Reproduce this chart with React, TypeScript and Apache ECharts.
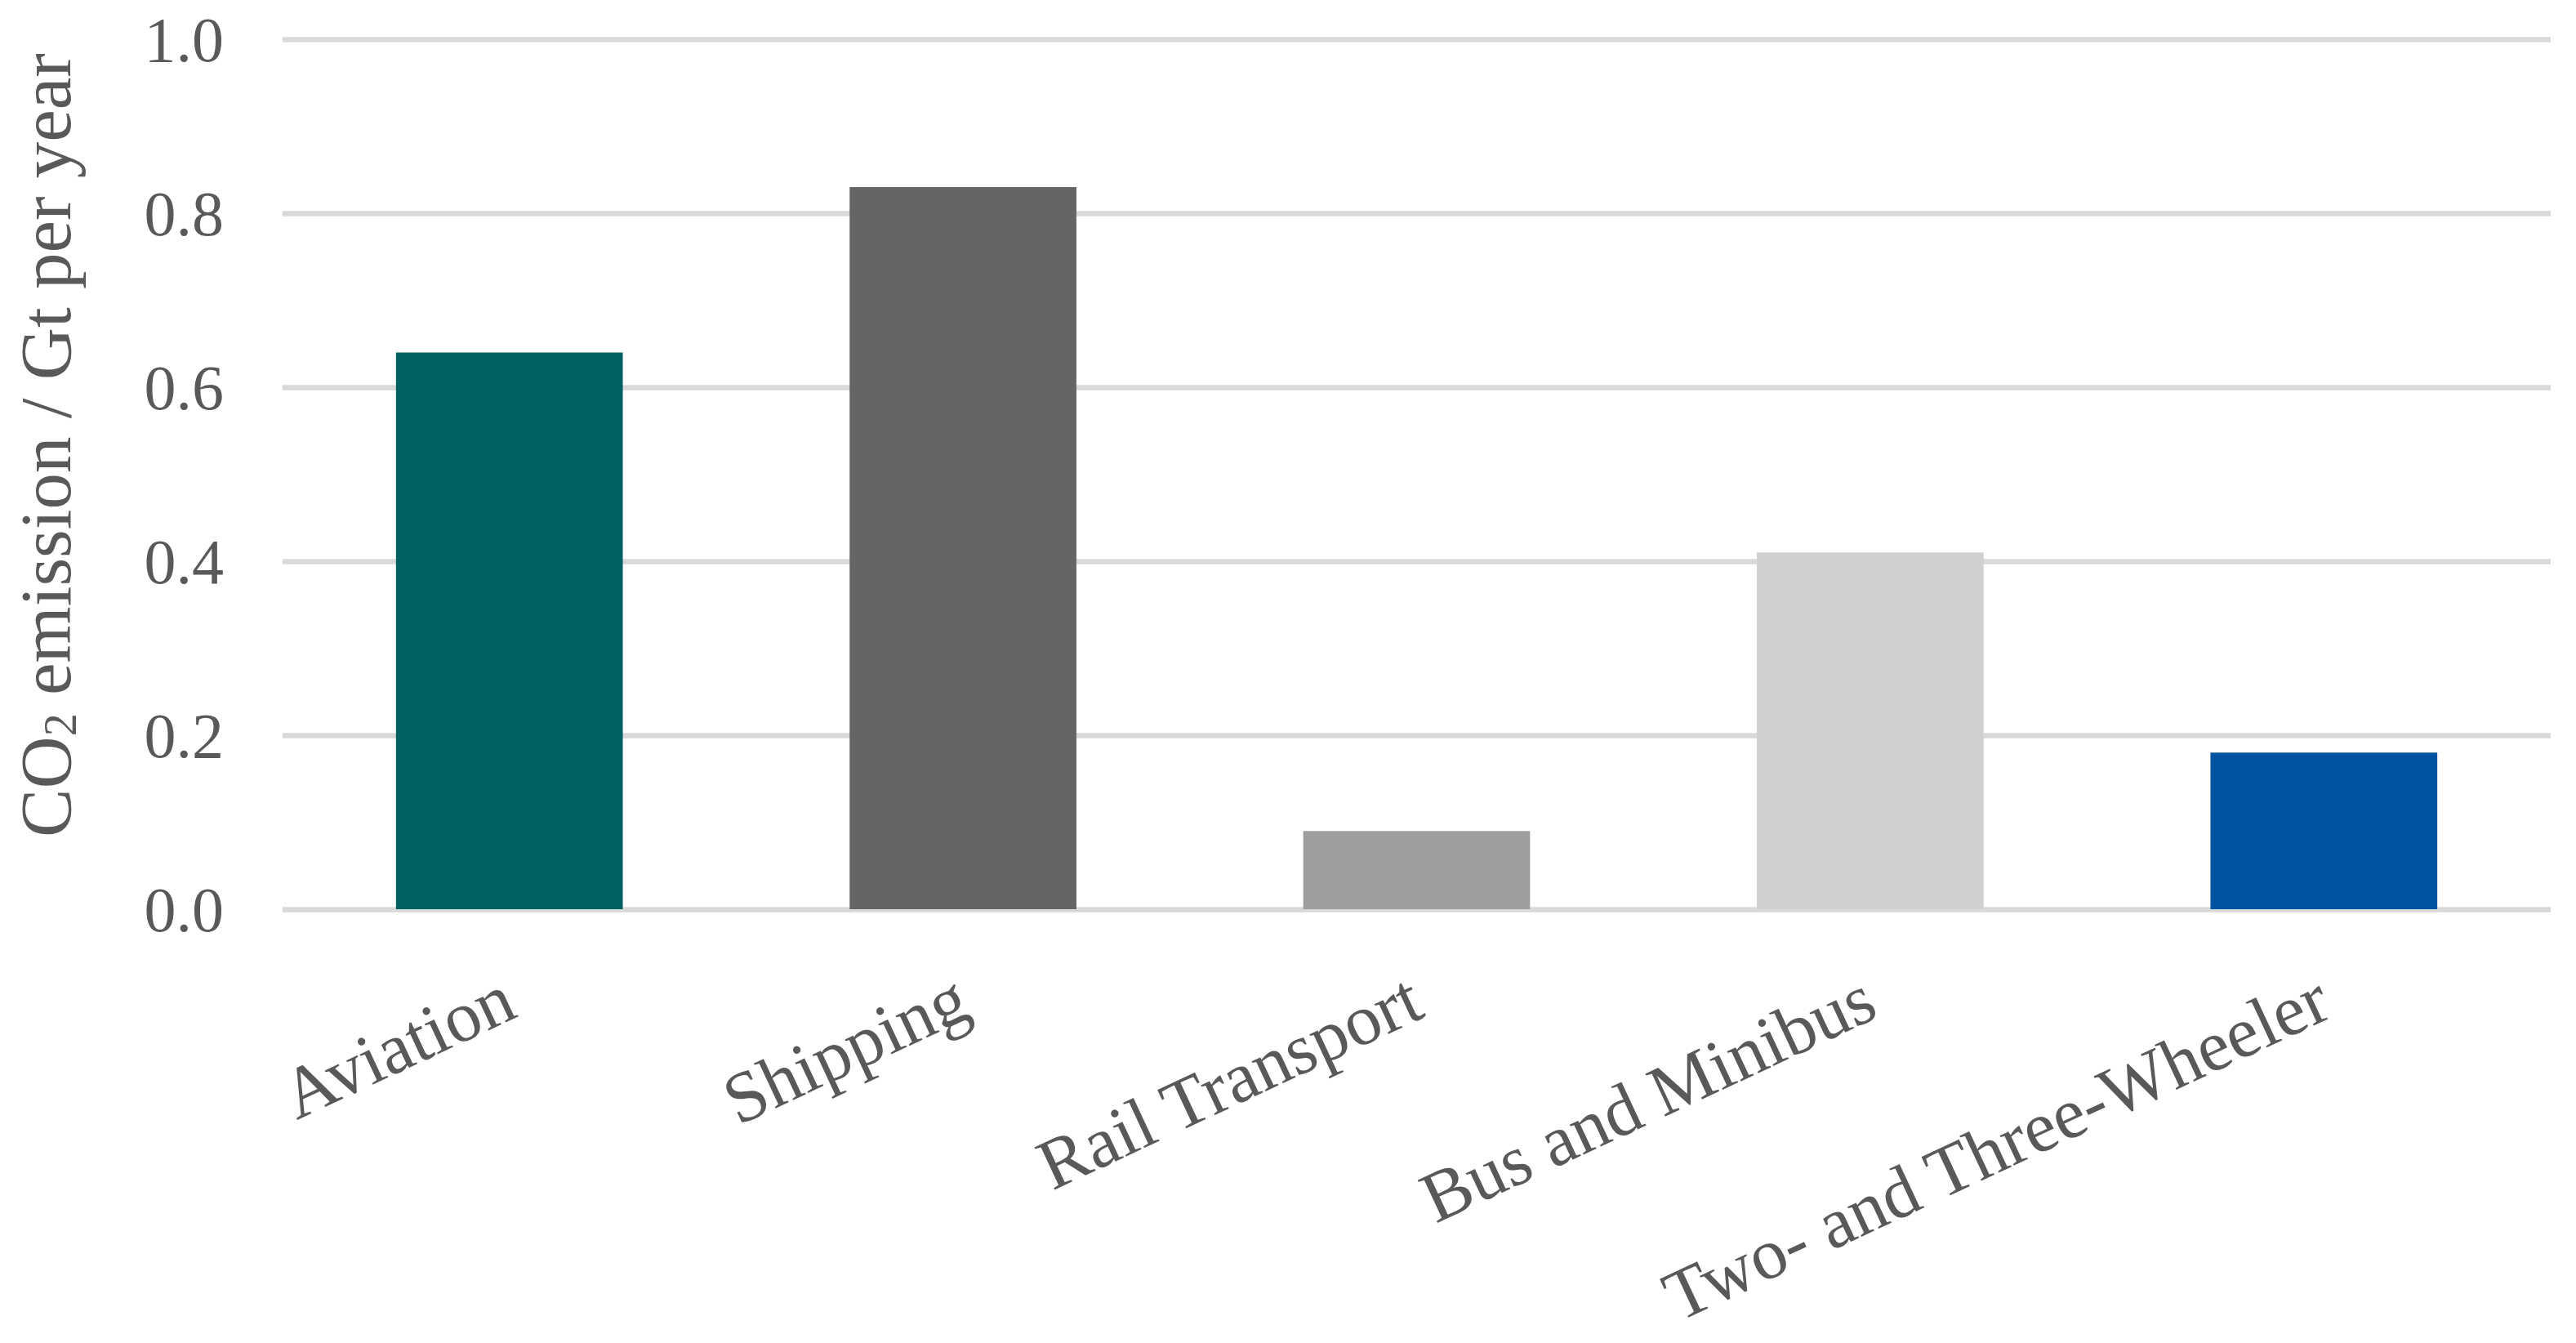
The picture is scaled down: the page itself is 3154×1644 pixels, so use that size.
import React, { useEffect, useRef } from "react";
import * as echarts from "echarts";

const categories = ["Aviation", "Shipping", "Rail Transport", "Bus and Minibus", "Two- and Three-Wheeler"];
const values = [0.64, 0.83, 0.09, 0.41, 0.18];
const barColors = ["#006064", "#646567", "#9D9EA0", "#CFD0D2", "#0053A0"];
const yTicks = [0, 0.2, 0.4, 0.6, 0.8, 1.0];

const FONT = "'Liberation Serif', 'DejaVu Serif', serif";
const TEXT = "#595959";

export default function App() {
  const ref = useRef<HTMLDivElement>(null);
  useEffect(() => {
    if (!ref.current) return;
    const chart = echarts.init(ref.current, null, { renderer: "svg" });
    chart.setOption({
      animation: false,
      backgroundColor: "#ffffff",
      grid: { left: 346, right: 31, top: 48, bottom: 531, containLabel: false, outerBoundsMode: "none" },
      xAxis: {
        type: "category",
        data: categories,
        axisLine: { show: false },
        axisTick: { show: false },
        axisLabel: {
          rotate: 25,
          margin: 104,
          color: TEXT,
          fontFamily: FONT,
          fontSize: 88,
          interval: 0,
        },
      },
      yAxis: {
        type: "value",
        min: yTicks[0],
        max: yTicks[yTicks.length - 1],
        interval: 0.2,
        axisLine: { show: false },
        axisTick: { show: false },
        splitLine: { lineStyle: { color: "#D9D9D9", width: 6.5 } },
        axisLabel: {
          color: TEXT,
          fontFamily: FONT,
          fontSize: 78,
          margin: 72,
          formatter: (v: number) => v.toFixed(1),
        },
      },
      graphic: [
        {
          type: "text",
          x: 56,
          y: 545,
          rotation: Math.PI / 2,
          style: {
            text: "CO{sub|2} emission / Gt per year",
            fontFamily: FONT,
            fontSize: 89,
            fill: TEXT,
            align: "center",
            verticalAlign: "middle",
            rich: {
              sub: { fontFamily: FONT, fontSize: 56, fill: TEXT, verticalAlign: "bottom", padding: [36, 0, 0, 0] },
            },
          },
        },
      ],
      series: [
        {
          type: "bar",
          barWidth: "50%",
          data: values.map((v, i) => ({ value: v, itemStyle: { color: barColors[i] } })),
        },
      ],
    });
    return () => chart.dispose();
  }, []);
  return <div ref={ref} style={{ position: "fixed", left: 0, top: 0, width: "100vw", height: "100vh" }} />;
}
